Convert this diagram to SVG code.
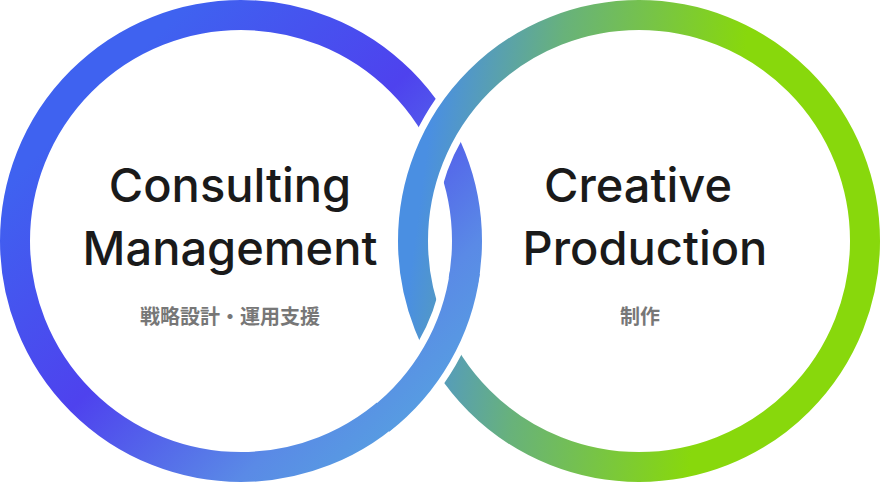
<svg xmlns="http://www.w3.org/2000/svg" width="880" height="482" viewBox="0 0 880 482">
<defs>
<linearGradient id="gl" gradientUnits="userSpaceOnUse" x1="0" y1="0" x2="480" y2="480">
<stop offset="0.2" stop-color="#3f62f0"/><stop offset="0.5" stop-color="#4e42ee"/><stop offset="0.75" stop-color="#5a8ae6"/><stop offset="0.9" stop-color="#56a2e0"/>
</linearGradient>
<linearGradient id="gr" gradientUnits="userSpaceOnUse" x1="420" y1="200" x2="720" y2="240">
<stop offset="0" stop-color="#4a8fe2"/><stop offset="0.4" stop-color="#68b27a"/><stop offset="1" stop-color="#88d80c"/>
</linearGradient>
<style>
.ring{fill:none;stroke-width:30}
.gap{fill:none;stroke:#fff;stroke-width:44}
.t{font-family:Inter,"Liberation Sans",sans-serif;font-size:47px;font-weight:500;fill:#1a1a1a;text-anchor:middle}
.s{font-family:"Noto Sans CJK JP",sans-serif;font-size:20px;font-weight:700;fill:#777;text-anchor:middle}
</style>
</defs>
<g id="connectors">
<circle class="ring" cx="241" cy="241" r="226" stroke="url(#gl)"/>
<path class="gap" d="M416.4 201.7 A226 226 0 0 1 493.7 67.9"/>
<circle class="ring" cx="639" cy="241" r="226" stroke="url(#gr)"/>
<path class="gap" d="M463.6 280.2 A226 226 0 0 1 386.3 414.1"/>
<path class="ring" stroke="url(#gl)" d="M465 272 A226 226 0 0 1 380 420"/>
</g>
<g id="consulting">
<text class="t" x="230" y="202">Consulting</text>
<text class="t" x="230" y="265">Management</text>
<text class="s" x="230" y="324">戦略設計・運用支援</text>
</g>
<g id="creative">
<text class="t" x="638" y="202">Creative</text>
<text class="t" x="645" y="265">Production</text>
<text class="s" x="640" y="324">制作</text>
</g>
</svg>
